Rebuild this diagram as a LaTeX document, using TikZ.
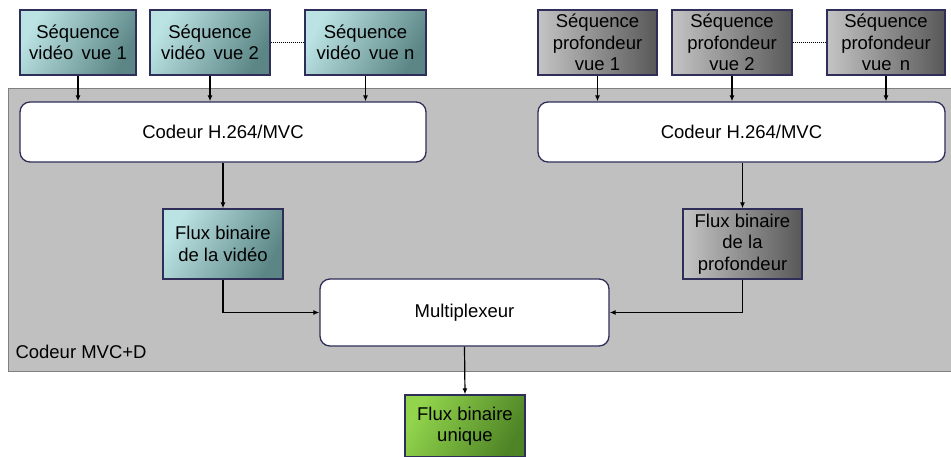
\documentclass[tikz,border=0pt]{standalone}
\usepackage{fontspec}
\setmainfont{Liberation Sans}
\usetikzlibrary{arrows.meta}
\definecolor{bordure}{HTML}{2E2E58}
\definecolor{fond}{HTML}{C0C0C0}
\definecolor{vidclair}{HTML}{BCE3E3}
\definecolor{vidfonce}{HTML}{5C8686}
\definecolor{profclair}{HTML}{C4C4C4}
\definecolor{proffonce}{HTML}{585858}
\definecolor{vertclair}{HTML}{92D44C}
\definecolor{vertfonce}{HTML}{4E8426}
\tikzset{
  seqvid/.style={draw=bordure, line width=1.3pt, left color=vidclair, right color=vidfonce, shading angle=60, align=center, minimum width=118pt, minimum height=65pt, inner sep=0pt},
  seqprof/.style={draw=bordure, line width=1.3pt, left color=profclair, right color=proffonce, align=center, minimum width=119pt, minimum height=65pt, inner sep=0pt},
  bloc/.style={draw=bordure, line width=1.3pt, fill=white, rounded corners=10pt, minimum height=60pt, inner sep=0pt},
  fleche/.style={line width=1.2pt, -{Latex[length=6pt,width=5pt]}}
}
\begin{document}
\begin{tikzpicture}[x=1pt, y=-1pt, font=\fontsize{18.5}{21.5}\selectfont]
\useasboundingbox (0,0) rectangle (951,456);
% cadre du codeur
\fill[fond] (8,88) rectangle (960,371);
\draw[gray, line width=0.8pt] (960,88) -- (8,88) -- (8,371) -- (960,371);
\node[anchor=west] (mvcd) at (12,352) {Codeur MVC+D};
% sequences video
\node[seqvid, minimum width=116pt] (v1) at (78,42.5) {Séquence\\vidéo\, vue 1};
\node[seqvid, minimum width=120pt] (v2) at (210,42.5) {Séquence\\vidéo\, vue 2};
\node[seqvid, minimum width=121pt] (vn) at (365.5,42.5) {Séquence\\vidéo\, vue n};
\draw[densely dotted, line width=1pt] (v2.east) -- (vn.west);
% sequences profondeur
\node[seqprof] (d1) at (597.5,42.5) {Séquence\\profondeur\\vue 1};
\node[seqprof, minimum width=120pt] (d2) at (732,42.5) {Séquence\\profondeur\\vue 2};
\node[seqprof, minimum width=118pt] (dn) at (886,42.5) {Séquence\\profondeur\\vue\, n};
\draw[densely dotted, line width=1pt] (d2.east) -- (dn.west);
% codeurs
\node[bloc, minimum width=406pt] (codg) at (223,132) {Codeur H.264/MVC};
\node[bloc, minimum width=407pt] (codd) at (741.5,132) {Codeur H.264/MVC};
\foreach \s in {v1,v2,vn} \draw[fleche] (\s.south) -- (\s.south |- codg.north);
\foreach \s in {d1,d2,dn} \draw[fleche] (\s.south) -- (\s.south |- codd.north);
% flux binaires
\node[seqvid, minimum width=120pt, minimum height=70pt] (fv) at (223,244) {Flux binaire\\de la vidéo};
\node[seqprof, minimum height=70pt] (fp) at (742.5,244) {Flux binaire\\de la\\profondeur};
\draw[fleche] (codg.south -| fv.north) -- (fv.north);
\draw[fleche] (codd.south -| fp.north) -- (fp.north);
% multiplexeur
\node[bloc, minimum width=289pt, minimum height=67pt] (mux) at (464.5,312.5) {Multiplexeur};
\draw[fleche] (fv.south) |- (mux.west);
\draw[fleche] (fp.south) |- (mux.east);
% sortie
\node[draw=bordure, line width=1.3pt, left color=vertclair, right color=vertfonce, shading angle=60, align=center, minimum width=120pt, minimum height=62pt, inner sep=0pt] (sortie) at (465,426) {Flux binaire\\unique};
\draw[fleche] (mux.south) -- (sortie.north);
\end{tikzpicture}
\end{document}
